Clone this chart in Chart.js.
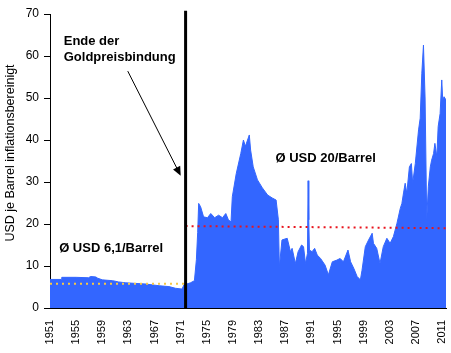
<!DOCTYPE html>
<html>
<head>
<meta charset="utf-8">
<script src="https://cdn.jsdelivr.net/npm/chart.js@4/dist/chart.umd.min.js"></script>
<style>
	body { margin: 0; background: #fff; }
	#wrap { width: 451px; height: 353px; position: relative; }
</style>
</head>
<body>
<div id="wrap"><canvas id="oil"></canvas></div>
<script>
// Ölpreis (USD je Barrel, inflationsbereinigt)
const priceYears = [
	1951.0, 1952.7, 1952.8, 1955.0, 1956.9, 1957.2, 1958.0, 1958.3, 1959.0, 1960.6,
	1961.5, 1962.6, 1965.7, 1967.7, 1969.2, 1970.2, 1971.2, 1971.5, 1972.5, 1973.1,
	1973.4, 1973.6, 1973.75, 1974.05, 1974.5, 1975.1, 1975.6, 1976.2, 1976.8, 1977.4,
	1977.9, 1978.3, 1978.7, 1978.9, 1979.5, 1980.2, 1980.6, 1980.9, 1981.5, 1981.7,
	1982.1, 1982.75, 1983.5, 1984.3, 1985.0, 1985.6, 1985.95, 1986.1, 1986.5, 1987.3,
	1987.8, 1988.05, 1988.55, 1988.97, 1989.5, 1989.8, 1990.1, 1990.4, 1990.5, 1990.6,
	1990.7, 1991.1, 1991.5, 1991.9, 1992.4, 1993.1, 1993.6, 1994.2, 1994.9, 1995.4,
	1995.9, 1996.6, 1997.0, 1997.5, 1998.0, 1998.5, 1998.75, 1999.25, 1999.75, 2000.3,
	2000.5, 2001.0, 2001.5, 2002.0, 2002.55, 2003.05, 2003.55, 2004.1, 2004.6, 2004.85,
	2005.1, 2005.35, 2005.6, 2006.0, 2006.3, 2006.5, 2006.9, 2007.4, 2007.65, 2007.9,
	2008.15, 2008.4, 2008.65, 2008.9, 2009.2, 2009.4, 2009.7, 2009.9, 2010.2, 2010.4,
	2010.7, 2010.95, 2011.1, 2011.3, 2011.6
];
const priceValues = [
	6.8, 6.8, 7.3, 7.3, 7.2, 7.5, 7.4, 7.1, 6.7, 6.5,
	6.2, 6.0, 5.7, 5.3, 5.1, 4.7, 4.5, 5.5, 6.0, 6.5,
	11.5, 18, 24.9, 24.1, 21.7, 21.5, 22.5, 21.5, 22.1, 21.5,
	22.5, 21, 20.5, 26.5, 32, 36.8, 40, 38.5, 41.2, 37.6,
	33.6, 30.5, 28.6, 26.9, 26.2, 25.7, 21, 9.8, 16.2, 16.6,
	13.4, 14.2, 10.6, 13.4, 15, 14.6, 10.6, 13, 30.3, 21,
	13.8, 13.4, 14.2, 12.6, 11.8, 10.2, 7.9, 11, 11.4, 11.8,
	11, 13.8, 11, 9.4, 7.5, 6.7, 9, 14.6, 16.2, 17.8,
	15.4, 14.2, 10.6, 14.6, 16.6, 15.4, 17, 20.2, 23.7, 24.9,
	27.4, 29.7, 27.3, 33.6, 34.4, 29.7, 34.4, 42.4, 45.2, 55.9,
	62.6, 50, 21, 29, 33.6, 35.2, 36.8, 39.2, 36, 43.2,
	46.3, 54.3, 49.5, 50.3, 49.5
];

// Durchschnittslinien und Ende der Goldpreisbindung
const goldEndYear = 1971.75;
const avgBeforeYears = [1951, goldEndYear];
const avgBeforeValues = [5.8, 5.8];
const avgAfterYears = [goldEndYear, 2011.6];
const avgAfterValues = [19.5, 19.0];

const xTickYears = [1951, 1955, 1959, 1963, 1967, 1971, 1975, 1979, 1983, 1987, 1991, 1995, 1999, 2003, 2007, 2011];

const toPoints = (xs, ys) => xs.map((x, i) => ({ x: x, y: ys[i] }));

Chart.defaults.font.family = "'Liberation Sans', Arial, sans-serif";
Chart.defaults.color = "#000";

// Pfeil, Beschriftungen und Achsentitel
const notes = {
	id: "notes",
	afterDatasetsDraw(chart) {
		const { ctx, scales: { x, y } } = chart;
		ctx.save();
		// Pfeil
		const x1 = x.getPixelForValue(1962.9), y1 = y.getPixelForValue(56.4);
		const x2 = x.getPixelForValue(1971.0), y2 = y.getPixelForValue(31.5);
		const ang = Math.atan2(y2 - y1, x2 - x1);
		ctx.strokeStyle = "#000";
		ctx.lineWidth = 1;
		ctx.beginPath();
		ctx.moveTo(x1, y1);
		ctx.lineTo(x2 - 6 * Math.cos(ang), y2 - 6 * Math.sin(ang));
		ctx.stroke();
		ctx.fillStyle = "#000";
		ctx.beginPath();
		ctx.moveTo(x2, y2);
		ctx.lineTo(x2 - 9 * Math.cos(ang) + 4 * Math.sin(ang), y2 - 9 * Math.sin(ang) - 4 * Math.cos(ang));
		ctx.lineTo(x2 - 9 * Math.cos(ang) - 4 * Math.sin(ang), y2 - 9 * Math.sin(ang) + 4 * Math.cos(ang));
		ctx.closePath();
		ctx.fill();

		ctx.font = "bold 13px 'Liberation Sans', Arial, sans-serif";
		ctx.textBaseline = "middle";
		ctx.textAlign = "left";
		ctx.fillText("Ende der", x.getPixelForValue(1953.1), y.getPixelForValue(63.5));
		ctx.fillText("Goldpreisbindung", x.getPixelForValue(1953.1), y.getPixelForValue(59.7));
		ctx.fillText("Ø USD 20/Barrel", x.getPixelForValue(1985.5), y.getPixelForValue(35.5));
		ctx.fillText("Ø USD 6,1/Barrel", x.getPixelForValue(1952.4), y.getPixelForValue(14.3));

		// y-Achsentitel
		ctx.font = "12.5px 'Liberation Sans', Arial, sans-serif";
		ctx.textAlign = "center";
		ctx.translate(11, 153);
		ctx.rotate(-Math.PI / 2);
		ctx.fillText("USD je Barrel inflationsbereinigt", 0, 0);
		ctx.restore();
	},
};

new Chart(document.getElementById("oil"), {
	type: "line",
	data: {
		datasets: [
			{
				data: toPoints([goldEndYear, goldEndYear], [0, 70.8]),
				borderColor: "#000",
				borderWidth: 3,
				pointRadius: 0,
				clip: false,
				order: 0,
			},
			{
				data: toPoints(avgAfterYears, avgAfterValues),
				borderColor: "#E8141C",
				borderWidth: 2,
				borderDash: [2, 4],
				pointRadius: 0,
				order: 1,
			},
			{
				data: toPoints(avgBeforeYears, avgBeforeValues),
				borderColor: "#F7C844",
				borderWidth: 2,
				borderDash: [2, 4],
				pointRadius: 0,
				order: 2,
			},
			{
				data: toPoints(priceYears, priceValues),
				borderColor: "#3366FF",
				backgroundColor: "#3366FF",
				borderWidth: 1,
				fill: "origin",
				pointRadius: 0,
				tension: 0,
				order: 3,
			},
		],
	},
	options: {
		responsive: true,
		maintainAspectRatio: false,
		animation: false,
		layout: { padding: { top: 14, right: 5, left: 0, bottom: 0 } },
		plugins: { legend: { display: false }, tooltip: { enabled: false } },
		scales: {
			x: {
				type: "linear",
				min: 1951,
				max: 2011.6,
				afterBuildTicks: (scale) => {
					scale.ticks = xTickYears.map((v) => ({ value: v }));
				},
				afterFit: (scale) => {
					scale.height = 45;
					scale.paddingLeft = 0;
					scale.paddingRight = 0;
				},
				grid: { display: false, drawTicks: false },
				border: { display: true, color: "#000", width: 1 },
				ticks: {
					autoSkip: false,
					minRotation: 90,
					maxRotation: 90,
					padding: 12,
					font: { size: 11 },
					callback: (v) => String(v),
				},
			},
			y: {
				min: 0,
				max: 70,
				afterFit: (scale) => { scale.width = 50; },
				grid: { drawOnChartArea: false, drawTicks: true, tickLength: 6, color: "#000" },
				border: { display: true, color: "#000", width: 1 },
				ticks: { stepSize: 10, padding: 5, font: { size: 12 } },
			},
		},
	},
	plugins: [notes],
});
</script>
</body>
</html>
